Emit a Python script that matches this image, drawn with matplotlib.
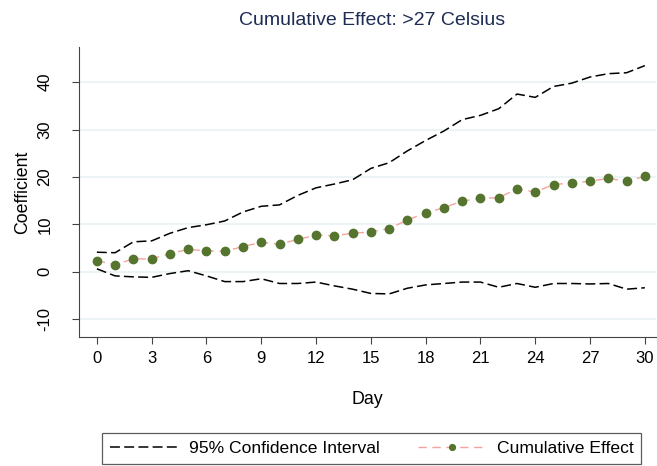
import matplotlib
matplotlib.use("Agg")
import matplotlib.pyplot as plt

plt.rcParams['font.family'] = ['Liberation Sans', 'DejaVu Sans']
plt.rcParams['axes.unicode_minus'] = False

days = list(range(31))
effect = [2.3, 1.5, 2.7, 2.7, 3.8, 4.7, 4.4, 4.3, 5.3, 6.2, 5.8, 6.8, 7.7, 7.6, 8.1,
          8.4, 9.1, 10.9, 12.4, 13.5, 14.9, 15.5, 15.6, 17.5, 16.8, 18.4, 18.7, 19.1, 19.7, 19.1, 20.1]
ci_upper = [4.1, 4.0, 6.3, 6.5, 8.1, 9.3, 9.9, 10.7, 12.6, 13.8, 14.1, 16.1, 17.7, 18.5, 19.4,
            21.8, 23.0, 25.5, 27.7, 29.7, 32.1, 33.0, 34.4, 37.5, 36.8, 39.1, 39.8, 41.1, 41.8, 42.0, 43.5]
ci_lower = [0.6, -0.9, -1.1, -1.2, -0.4, 0.2, -0.9, -2.1, -2.1, -1.5, -2.5, -2.5, -2.2, -3.0, -3.7,
            -4.6, -4.7, -3.5, -2.8, -2.5, -2.2, -2.2, -3.3, -2.5, -3.3, -2.5, -2.5, -2.6, -2.5, -3.7, -3.4]
xticks = list(range(0, 31, 3))
yticks = [-10, 0, 10, 20, 30, 40]

fig = plt.figure(figsize=(6.57, 4.66), dpi=100)
ax = fig.add_axes([0.1202, 0.2768, 0.878, 0.622])

for y in yticks:
    ax.axhline(y, color='#eaf2f3', lw=1.2, zorder=0)

ci_line, = ax.plot(days, ci_upper, color='black', lw=1.1, dashes=(6.5, 2.8), label='95% Confidence Interval')
ax.plot(days, ci_lower, color='black', lw=1.1, dashes=(6.5, 2.8))
eff_line, = ax.plot(days, effect, color='#f5a39c', lw=1.0, dashes=(6, 4),
                    marker='o', ms=6, mfc='#55752f', mec='#55752f', label='Cumulative Effect')

ax.set_xlim(-0.98, 30.6)
ax.set_ylim(-13.8, 47.4)
ax.set_xticks(xticks)
ax.set_yticks(yticks)
ax.tick_params(axis='both', labelsize=12, color='#444444', length=5, direction='out')
ax.tick_params(axis='x', pad=5)
ax.tick_params(axis='y', labelrotation=90, pad=14)
for lab in ax.get_yticklabels():
    lab.set_va('center')
for s in ['top', 'right']:
    ax.spines[s].set_visible(False)
for s in ['left', 'bottom']:
    ax.spines[s].set_color('#444444')

ax.set_xlabel('Day', fontsize=12.8, labelpad=18)
ax.set_ylabel('Coefficient', fontsize=12.8, labelpad=5)
fig.text(0.566, 0.946, 'Cumulative Effect: >27 Celsius', fontsize=14, color='#1e2b55',
         ha='center', va='baseline')

leg = fig.legend(handles=[ci_line, eff_line], loc='lower left', ncol=2,
                 bbox_to_anchor=(102 / 657, 2 / 466), frameon=True, fancybox=False,
                 fontsize=12.6, handlelength=3.9, handletextpad=0.6, columnspacing=2.2,
                 markerscale=0.7, borderaxespad=0, borderpad=0.45)
leg.get_frame().set_edgecolor('#333333')
leg.get_frame().set_linewidth(0.9)

fig.savefig('out.png', dpi=100)
